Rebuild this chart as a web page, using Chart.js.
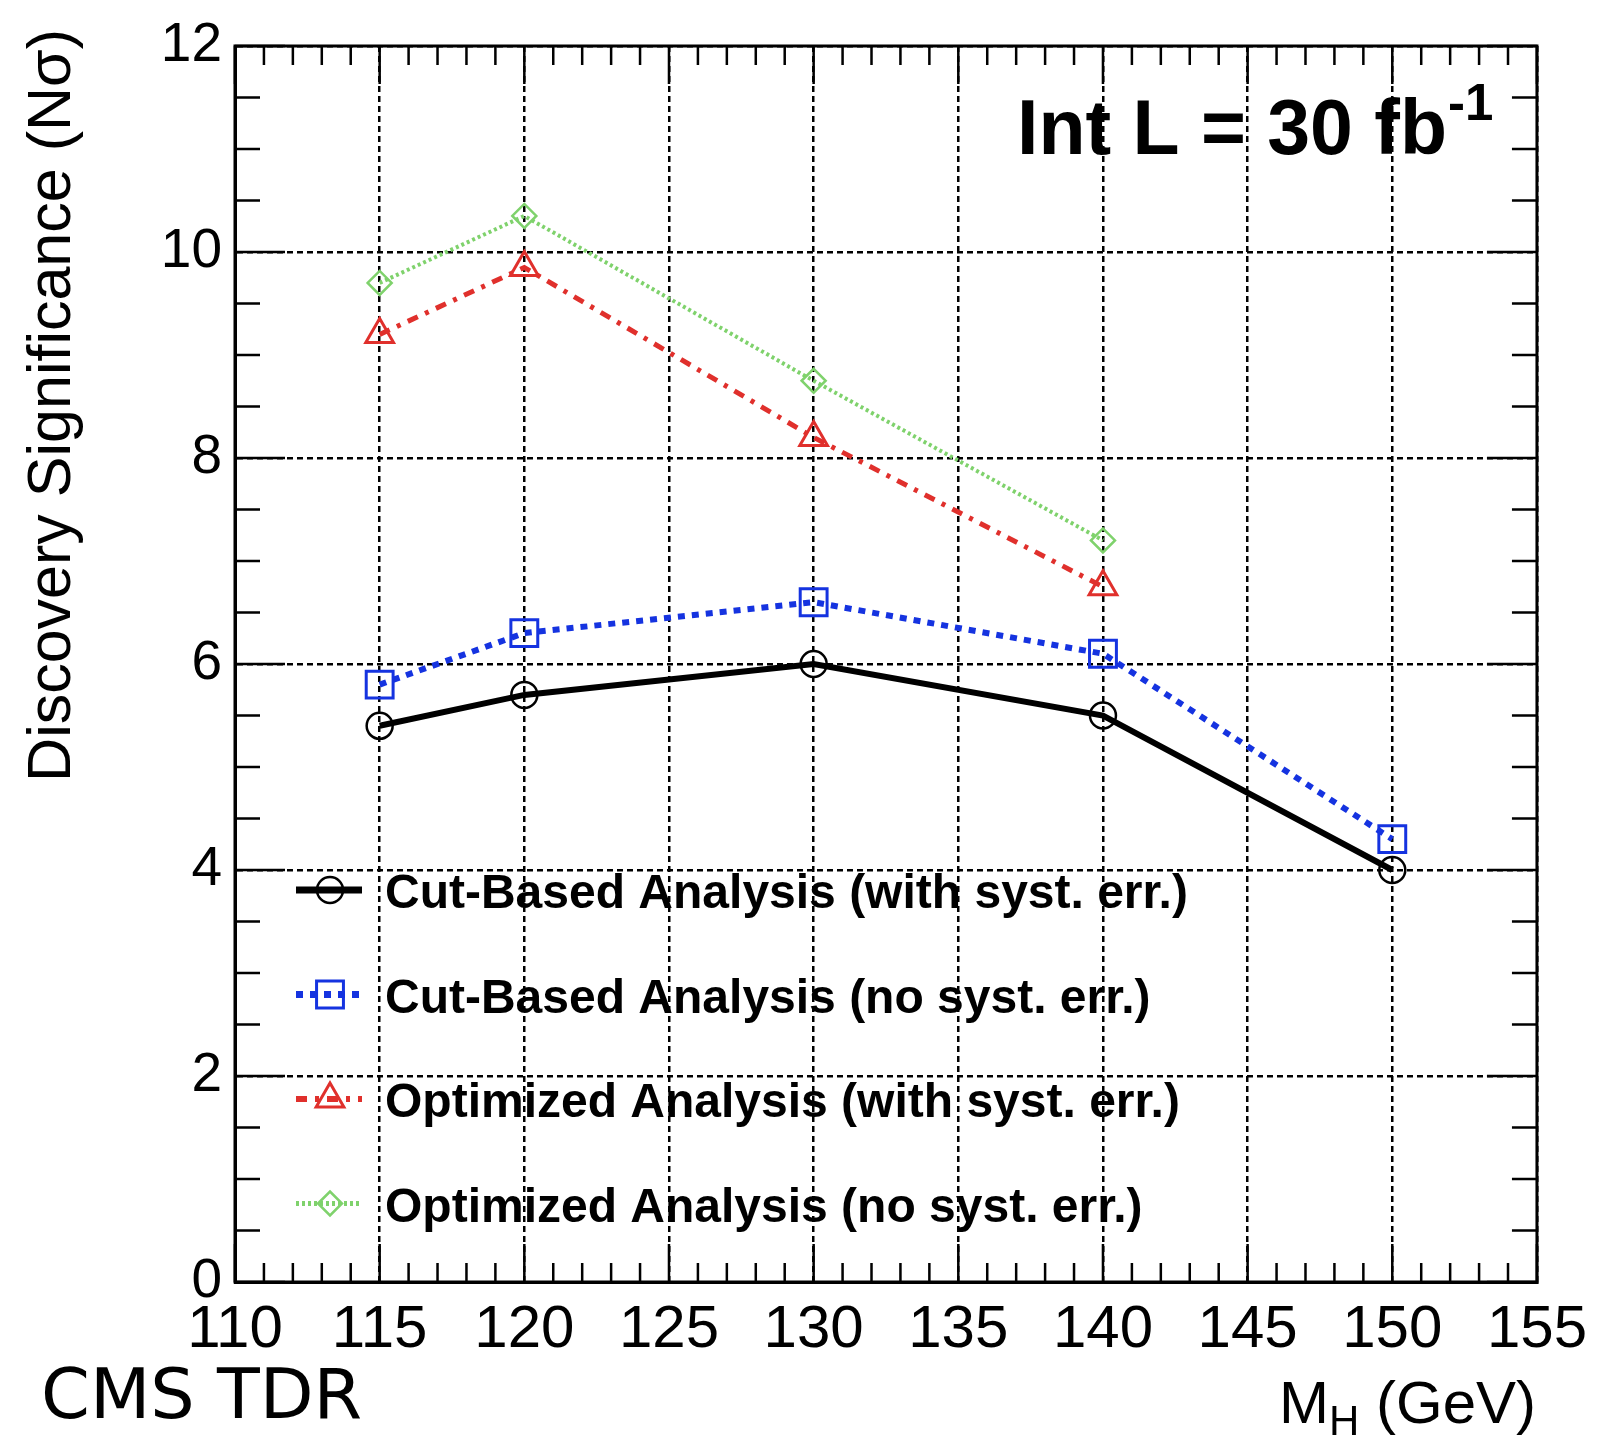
<!DOCTYPE html>
<html lang="en">
<head>
  <meta charset="UTF-8" />
  <title>Discovery Significance vs M_H</title>
  <script src="https://cdn.jsdelivr.net/npm/chart.js"></script>
  <style>
    html, body { margin: 0; padding: 0; background: #fff; }
    canvas { display: block; }
  </style>
</head>
<body>
  <canvas id="chartSignif" width="1599" height="1435"></canvas>

  <script>
    // Higgs mass points (GeV) and significance (N sigma)
    const massPoints      = [115, 120, 130, 140, 150];
    const cutBasedSyst    = [5.4, 5.7, 6.0, 5.5, 4.0];
    const cutBasedNoSyst  = [5.8, 6.3, 6.6, 6.1, 4.3];
    const optimizedSyst   = [9.2, 9.85, 8.2, 6.75];
    const optimizedNoSyst = [9.7, 10.35, 8.75, 7.2];

    const seriesLabels = [
      'Cut-Based Analysis (with syst. err.)',
      'Cut-Based Analysis (no syst. err.)',
      'Optimized Analysis (with syst. err.)',
      'Optimized Analysis (no syst. err.)'
    ];

    const xRange = [110, 155];
    const yRange = [0, 12];

    const toPoints = (vals) => vals.map((v, i) => ({ x: massPoints[i], y: v }));

    const FONT = "'Liberation Sans', Arial, Helvetica, sans-serif";

    // ROOT-style frame: box on all sides + inward major/minor ticks
    const rootFrame = {
      id: 'rootFrame',
      afterDraw(chart) {
        const { ctx, chartArea: a, scales: { x, y } } = chart;
        ctx.save();
        ctx.strokeStyle = '#000';
        ctx.setLineDash([]);
        ctx.lineWidth = 2.5;
        ctx.beginPath();
        for (let v = x.min; v <= x.max; v += 1) {
          const px = x.getPixelForValue(v);
          const len = v % 5 === 0 ? 38 : 19;
          ctx.moveTo(px, a.bottom); ctx.lineTo(px, a.bottom - len);
          ctx.moveTo(px, a.top);    ctx.lineTo(px, a.top + len);
        }
        for (let v = y.min; v <= y.max; v += 0.5) {
          const py = y.getPixelForValue(v);
          const len = v % 2 === 0 ? 50 : 25;
          ctx.moveTo(a.left, py);  ctx.lineTo(a.left + len, py);
          ctx.moveTo(a.right, py); ctx.lineTo(a.right - len, py);
        }
        ctx.stroke();
        ctx.lineWidth = 3;
        ctx.strokeRect(a.left, a.top, a.right - a.left, a.bottom - a.top);
        ctx.restore();
      }
    };

    // legend (line + marker + bold text) and the free text labels
    const rootTexts = {
      id: 'rootTexts',
      afterDraw(chart) {
        const { ctx } = chart;
        ctx.save();
        ctx.fillStyle = '#000';

        // legend
        chart.data.datasets.forEach((ds, i) => {
          const cy = 890 + i * 104.5;
          ctx.strokeStyle = ds.borderColor;
          ctx.lineWidth = ds.borderWidth + 1;
          ctx.setLineDash(ds.borderDash || []);
          ctx.beginPath();
          ctx.moveTo(296, cy); ctx.lineTo(362, cy);
          ctx.stroke();
          ctx.setLineDash([]);
          ctx.lineWidth = ds.pointBorderWidth;
          ctx.fillStyle = 'rgba(0,0,0,0)';
          Chart.helpers.drawPoint(ctx, {
            pointStyle: ds.pointStyle, rotation: 0,
            radius: ds.pointRadius, borderWidth: ds.pointBorderWidth
          }, 330, cy);
          ctx.fillStyle = '#000';
          ctx.font = 'bold 48px ' + FONT;
          ctx.textAlign = 'left';
          ctx.textBaseline = 'alphabetic';
          ctx.fillText(ds.label, 385, cy + 18);
        });

        // y axis title, rotated, aligned to top of frame
        ctx.save();
        ctx.translate(70, 41);
        ctx.rotate(-Math.PI / 2);
        ctx.font = '61px ' + FONT;
        ctx.textAlign = 'right';
        ctx.textBaseline = 'alphabetic';
        ctx.fillText('Discovery Significance (N\u03C3)', 12, 0);
        ctx.restore();

        // x axis title M_H (GeV), right aligned
        ctx.textAlign = 'left';
        ctx.textBaseline = 'alphabetic';
        const big = '60px ' + FONT, small = '42px ' + FONT;
        ctx.font = big;   const wM = ctx.measureText('M').width;
        const wRest = ctx.measureText(' (GeV)').width;
        ctx.font = small; const wH = ctx.measureText('H').width;
        let xs = 1536 - (wM + wH + wRest);
        ctx.font = big;   ctx.fillText('M', xs, 1423); xs += wM;
        ctx.font = small; ctx.fillText('H', xs, 1435); xs += wH;
        ctx.font = big;   ctx.fillText(' (GeV)', xs, 1423);

        // luminosity label
        ctx.font = 'bold 77px ' + FONT;
        ctx.fillText('Int L = 30 fb', 1017, 154);
        const wL = ctx.measureText('Int L = 30 fb').width;
        ctx.font = 'bold 51px ' + FONT;
        ctx.fillText('-1', 1017 + wL + 1, 120);

        // CMS TDR tag
        ctx.font = "70px 'DejaVu Sans', sans-serif";
        ctx.fillText('CMS TDR', 41, 1418);

        ctx.restore();
      }
    };

    const ctxSig = document.getElementById('chartSignif').getContext('2d');

    const chartSig = new Chart(ctxSig, {
      type: 'line',
      data: {
        datasets: [
          {
            label: seriesLabels[0],
            data: toPoints(cutBasedSyst),
            borderColor: '#000000',
            borderWidth: 6,
            pointStyle: 'circle',
            pointRadius: 13,
            pointBorderWidth: 2.5,
            pointBackgroundColor: 'rgba(0,0,0,0)',
            fill: false
          },
          {
            label: seriesLabels[1],
            data: toPoints(cutBasedNoSyst),
            borderColor: '#1533e0',
            borderWidth: 6,
            borderDash: [7, 7],
            pointStyle: 'rect',
            pointRadius: 19,
            pointBorderWidth: 3,
            pointBackgroundColor: 'rgba(0,0,0,0)',
            fill: false
          },
          {
            label: seriesLabels[2],
            data: toPoints(optimizedSyst),
            borderColor: '#e0302c',
            borderWidth: 5,
            borderDash: [11, 8, 4, 8],
            pointStyle: 'triangle',
            pointRadius: 16,
            pointBorderWidth: 3,
            pointBackgroundColor: 'rgba(0,0,0,0)',
            fill: false
          },
          {
            label: seriesLabels[3],
            data: toPoints(optimizedNoSyst),
            borderColor: '#7fd26c',
            borderWidth: 4,
            borderDash: [3, 3],
            pointStyle: 'rectRot',
            pointRadius: 12,
            pointBorderWidth: 2.5,
            pointBackgroundColor: 'rgba(0,0,0,0)',
            fill: false
          }
        ]
      },
      options: {
        responsive: false,
        animation: false,
        devicePixelRatio: 1,
        layout: { padding: { left: 0, top: 41, right: 61, bottom: 0 } },
        plugins: {
          legend: { display: false },
          tooltip: { enabled: false }
        },
        elements: { line: { tension: 0 } },
        scales: {
          x: {
            type: 'linear',
            min: xRange[0],
            max: xRange[1],
            afterFit: (s) => { s.height = 153; },
            ticks: {
              stepSize: 5,
              autoSkip: false,
              maxRotation: 0,
              padding: 12,
              color: '#000',
              font: { family: FONT, size: 60 }
            },
            grid: { color: '#000', lineWidth: 2.5, drawTicks: false },
            border: { display: true, color: '#000', width: 3, dash: [6, 4] }
          },
          y: {
            min: yRange[0],
            max: yRange[1],
            afterFit: (s) => { s.width = 235; },
            ticks: {
              stepSize: 2,
              padding: 13,
              color: '#000',
              font: { family: FONT, size: 55 }
            },
            grid: { color: '#000', lineWidth: 2.5, drawTicks: false },
            border: { display: true, color: '#000', width: 3, dash: [6, 4] }
          }
        }
      },
      plugins: [rootFrame, rootTexts]
    });
  </script>
</body>
</html>
